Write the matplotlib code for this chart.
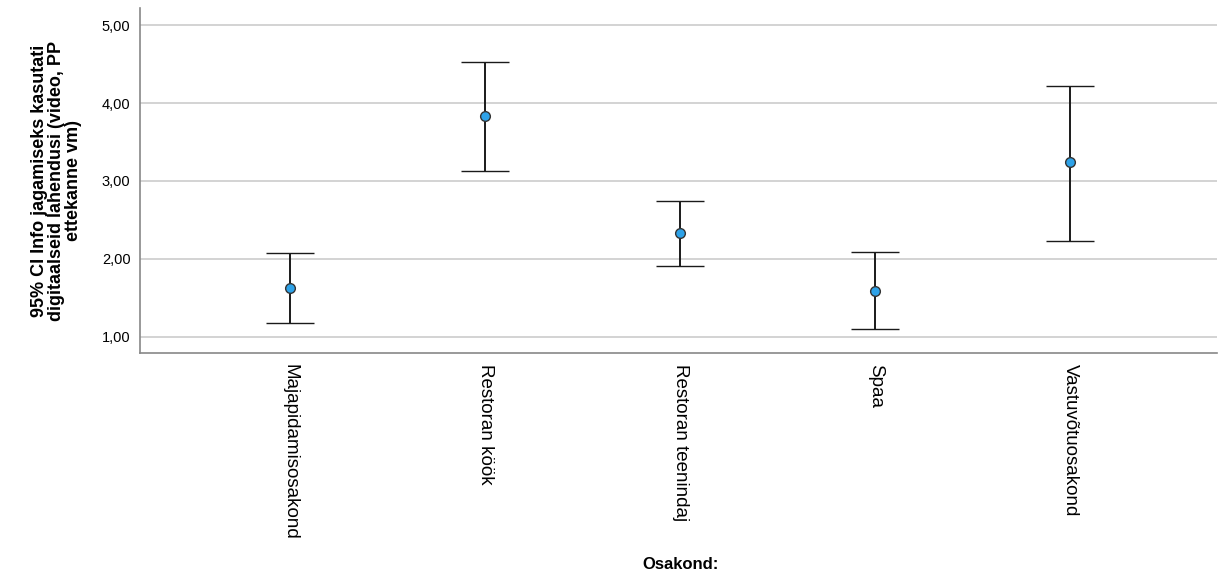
import matplotlib
matplotlib.use("Agg")
import matplotlib.pyplot as plt
import numpy as np

categories = ["Majapidamisosakond", "Restoran köök", "Restoran teenindaj", "Spaa", "Vastuvõtuosakond"]
means = [1.63, 3.83, 2.33, 1.59, 3.24]
lower = [1.18, 3.13, 1.91, 1.10, 2.23]
upper = [2.08, 4.53, 2.74, 2.09, 4.22]
yticks = [1.0, 2.0, 3.0, 4.0, 5.0]
ytick_labels = ["1,00", "2,00", "3,00", "4,00", "5,00"]

plt.rcParams["font.family"] = ["Liberation Sans", "DejaVu Sans"]

fig = plt.figure(figsize=(12.19, 5.76), dpi=100)
ax = fig.add_axes([0.115, 0.387, 0.883, 0.599])

x = np.arange(1, len(categories) + 1)
m = np.array(means)
err = np.vstack([m - np.array(lower), np.array(upper) - m])
ax.errorbar(x, m, yerr=err, fmt="o", color="#1a1a1a", ecolor="#1a1a1a",
            elinewidth=1.4, capsize=17.5, capthick=1.4,
            markerfacecolor="#2ea2e8", markeredgecolor="#333333",
            markersize=7, markeredgewidth=1.0, zorder=3)

ax.set_xlim(0.23, 5.75)
ax.set_ylim(0.79, 5.22)
ax.set_yticks(yticks)
ax.set_yticklabels(ytick_labels, fontsize=10.5)
ax.set_xticks(x)
ax.set_xticklabels(categories, rotation=-90, fontsize=13.5, va="top", ha="center")
ax.tick_params(axis="x", length=0, pad=8)
ax.tick_params(axis="y", length=0, pad=7)
ax.grid(axis="y", color="#cccccc", linewidth=1.2)
ax.set_axisbelow(True)
for s in ["top", "right"]:
    ax.spines[s].set_visible(False)
for s in ["left", "bottom"]:
    ax.spines[s].set_color("#888888")
    ax.spines[s].set_linewidth(1.2)

ax.set_ylabel("95% CI Info jagamiseks kasutati\ndigitaalseid lahendusi (video, PP\nettekanne vm)",
              fontsize=13, fontweight="bold", linespacing=1.02, labelpad=14)
fig.text(0.558, 0.02, "Osakond:", ha="center", va="center", fontsize=12, fontweight="bold")

fig.savefig("out.png", dpi=100)
